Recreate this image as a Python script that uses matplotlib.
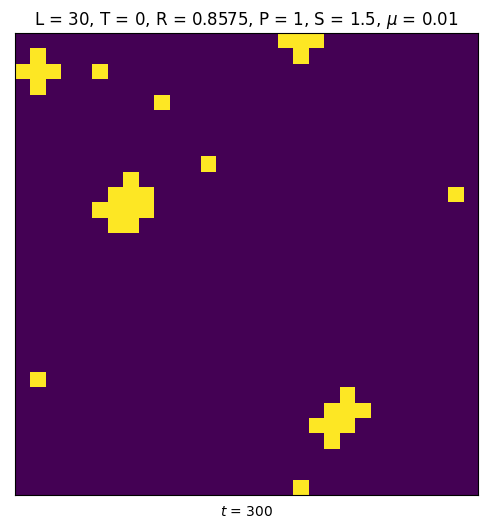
import matplotlib
matplotlib.use("Agg")
import matplotlib.pyplot as plt
import numpy as np

L = 30
# cooperator cells (row, col) at t = 300
rows = [1, 2, 2, 2, 3, 2, 4, 8,
        9, 10, 10, 10, 11, 11, 11, 11, 12, 12,
        0, 0, 0, 1, 10, 22,
        23, 24, 24, 24, 25, 25, 25, 26, 29]
cols = [1, 0, 1, 2, 1, 5, 9, 12,
        7, 6, 7, 8, 5, 6, 7, 8, 6, 7,
        17, 18, 19, 18, 28, 1,
        21, 20, 21, 22, 19, 20, 21, 20, 18]

grid = np.zeros((L, L))
grid[rows, cols] = 1

fig = plt.figure(figsize=(4.86, 5.29), dpi=100)
ax = fig.add_axes([15 / 486, 34 / 529, 463 / 486, 462 / 529])
ax.imshow(grid, cmap="viridis", interpolation="nearest", aspect="auto")
ax.set_xticks([])
ax.set_yticks([])
ax.set_title(r"L = 30, T = 0, R = 0.8575, P = 1, S = 1.5, $\mu$ = 0.01", fontsize=12)
ax.set_xlabel(r"$t$ = 300", fontsize=10, labelpad=7)

fig.savefig("out.png", dpi=100)
